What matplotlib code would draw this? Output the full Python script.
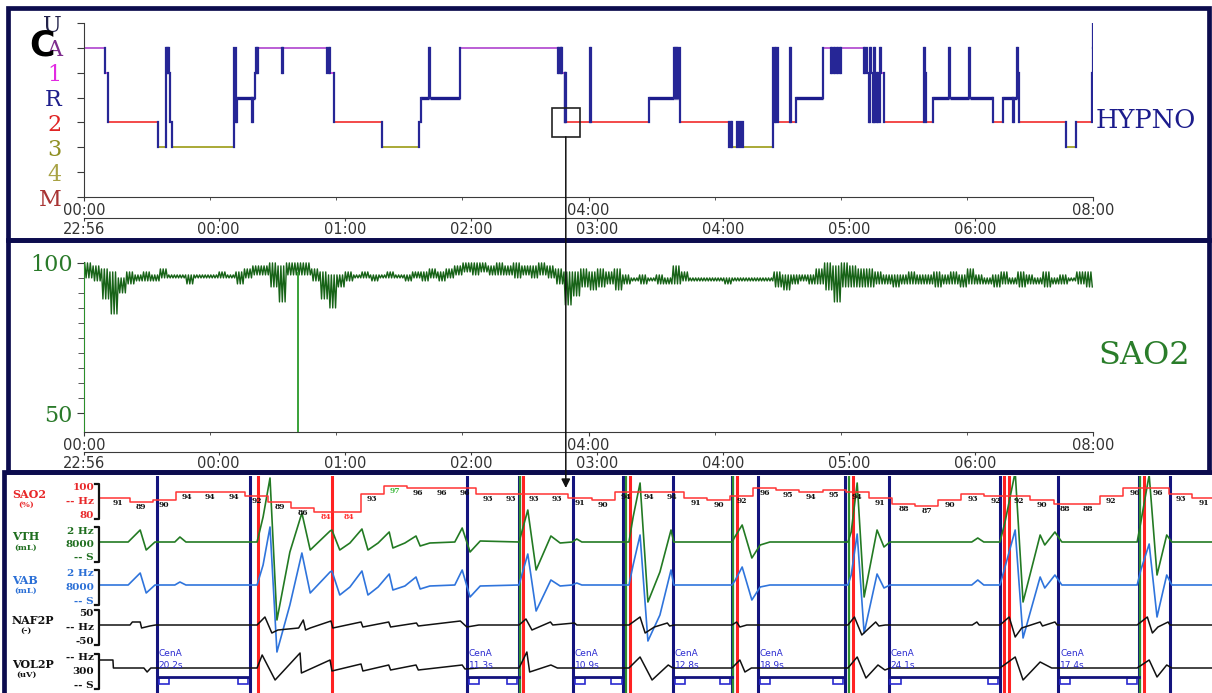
import numpy as np
import matplotlib
matplotlib.use("Agg")
import matplotlib.pyplot as plt
from matplotlib.patches import Rectangle, ConnectionPatch
from matplotlib.lines import Line2D
from matplotlib.transforms import blended_transform_factory

# ---------------- hypnogram (minutes after 22:56, stage entered) ----------------
hyp_min = [0, 10.0, 11.4, 35.2, 39.0, 39.5, 40.0, 40.5, 41.0, 41.9,
           71.4, 72.1, 72.9, 80.0, 80.5, 81.4, 81.9, 82.4, 82.9, 94.3,
           94.8, 115.7, 116.4, 117.1, 119.0, 141.9, 159.5, 160.5, 164.3, 164.8,
           179.0, 225.7, 226.2, 226.7, 227.1, 227.6, 228.6, 229.0, 229.5, 240.5,
           241.0, 268.6, 280.5, 281.0, 281.4, 281.9, 282.4, 283.3, 306.7, 307.6,
           308.1, 310.5, 311.4, 312.4, 313.3, 327.6, 328.6, 329.0, 330.0, 335.7,
           336.2, 338.6, 351.4, 355.2, 355.7, 356.7, 357.1, 358.1, 358.6, 359.5,
           360.0, 371.0, 371.4, 372.4, 373.3, 373.8, 374.3, 375.2, 375.7, 376.2,
           377.1, 377.6, 378.6, 379.0, 380.5, 399.5, 400.0, 400.5, 403.8, 411.4,
           411.9, 420.9, 421.4, 432.4, 437.1, 441.9, 442.4, 443.8, 444.3, 444.8,
           467.1, 471.9, 479.5, 479.8, 480.0]
hyp_stage = ["A", "1", "2", "3", "A", "1", "A", "1", "2", "3",
             "A", "2", "R", "2", "R", "1", "A", "1", "A", "1",
             "A", "1", "A", "1", "2", "3", "2", "R", "A", "R",
             "A", "1", "A", "1", "A", "1", "2", "1", "2", "A",
             "2", "R", "A", "R", "A", "R", "A", "2", "3", "2",
             "3", "2", "3", "2", "3", "A", "2", "A", "2", "A",
             "2", "R", "A", "1", "A", "1", "A", "1", "A", "1",
             "A", "1", "A", "1", "2", "A", "1", "2", "A", "2",
             "1", "2", "A", "1", "2", "A", "1", "2", "R", "A",
             "R", "A", "R", "2", "R", "2", "R", "A", "1", "2",
             "3", "2", "1", "A", "U"]
hyp_end_min = 480.2

stage_names = ["M", "4", "3", "2", "R", "1", "A", "U"]
stage_label_colors = ["#a83434", "#a8a244", "#8f8f22", "#e02424", "#1e1e8c",
                      "#e22ae2", "#7e2c8e", "#22224a"]
stage_line_colors = {"A": "#b552d2", "1": "#e040e0", "R": "#1c1c8c",
                     "2": "#f23c3c", "3": "#a3a326", "U": "#1c1c8c"}

elapsed_ticks = [0, 4, 8]
elapsed_labels = ["00:00", "04:00", "08:00"]
clock_ticks = [0, 1.067, 2.067, 3.067, 4.067, 5.067, 6.067, 7.067]
clock_labels = ["22:56", "00:00", "01:00", "02:00", "03:00", "04:00", "05:00", "06:00"]

# ---------------- SaO2 overview: 4-minute bins, max / min ----------------
sao2_bin_min = 4
sao2_hi = [100, 99, 98, 97, 95, 97, 96, 97, 96, 98,
           96, 96, 96, 96, 96, 96, 97, 96, 97, 98,
           99, 99, 100, 99, 100, 100, 100, 98, 97, 96,
           96, 97, 96, 97, 96, 96, 97, 96, 96, 97,
           97, 98, 97, 98, 99, 100, 100, 100, 99, 100,
           99, 100, 99, 99, 100, 99, 98, 97, 97, 98,
           97, 98, 97, 98, 96, 95, 96, 95, 96, 95,
           99, 97, 95, 95, 95, 95, 95, 95, 95, 95,
           95, 95, 97, 96, 96, 96, 96, 98, 100, 99,
           100, 99, 98, 98, 97, 96, 96, 96, 97, 96,
           96, 97, 96, 97, 96, 98, 96, 95, 96, 97,
           95, 97, 96, 95, 97, 95, 96, 95, 97, 97]
sao2_lo = [95, 94, 88, 83, 90, 93, 94, 94, 94, 95,
           95, 95, 93, 95, 95, 95, 95, 95, 93, 95,
           96, 96, 92, 87, 96, 96, 96, 94, 88, 85,
           92, 94, 95, 95, 94, 95, 95, 95, 94, 95,
           94, 95, 94, 95, 96, 97, 96, 97, 96, 96,
           96, 95, 96, 95, 96, 95, 93, 86, 89, 92,
           91, 92, 93, 91, 93, 94, 93, 94, 93, 93,
           93, 94, 94, 94, 94, 94, 93, 94, 94, 94,
           94, 94, 92, 91, 93, 94, 93, 93, 91, 87,
           92, 92, 92, 92, 93, 93, 92, 93, 93, 93,
           93, 92, 93, 93, 92, 93, 93, 93, 92, 93,
           93, 92, 93, 93, 92, 93, 93, 94, 93, 92]
artifact_h = [0.0, 1.70]
artifact_top = [100, 97]

zoom_h = 3.82   # epoch shown in the lower panel

# ---------------- lower panel: 240 s epoch ----------------
epoch_len = 240.7
resp_t = [0.0, 6.1, 8.7, 10.0, 11.9, 16.2, 17.3, 18.6, 34.0, 35.3,
          36.8, 38.3, 41.1, 43.7, 45.5, 49.8, 50.2, 51.9, 54.1, 56.7,
          58.0, 60.2, 62.6, 63.4, 66.0, 68.4, 69.3, 71.4, 76.8, 78.4,
          80.1, 82.3, 90.7, 91.3, 92.6, 94.4, 97.6, 99.6, 102.2, 103.2,
          104.3, 114.5, 115.4, 116.9, 118.6, 121.2, 123.6, 124.2, 136.8, 137.4,
          139.0, 141.1, 142.9, 145.0, 161.9, 162.6, 163.9, 165.4, 168.2, 169.7,
          171.0, 188.7, 190.0, 191.3, 194.8, 195.9, 198.1, 199.8, 203.5, 204.5,
          206.7, 208.2, 224.5, 225.3, 227.1, 228.8, 230.9, 232.0, 240.7]
vth = [0, 0, 12, -8, 0, 0, 5, 0, 0, 25,
       64, -78, -10, 29, -8, 11, 12, -8, -1, 13,
       -8, -1, 10, -6, -1, 6, -4, -1, 0, 14,
       -10, 1, 0, 10, 32, -28, 6, -1, 0, 3,
       0, 0, 25, 59, -60, -30, 12, 0, 0, 5,
       17, -16, -3, 0, 0, 10, 59, -55, 12, -5,
       0, 0, 4, 0, 0, 20, 70, -60, 7, -3,
       10, 0, 0, 20, 67, -33, 7, 0, 0]
vab = [0, 0, 12, -8, 0, 0, 3, 0, 0, 20,
       58, -67, -20, 32, -8, 13, 14, -10, -2, 14,
       -10, -2, 11, -5, -1, 8, -4, -1, 0, 15,
       -12, -1, 0, 10, 31, -26, 5, -1, 0, 2,
       0, 0, 20, 50, -56, -30, 15, 0, 0, 4,
       18, -15, -2, 0, 0, 10, 51, -48, 11, -3,
       0, 0, 5, 0, 0, 18, 55, -53, 8, -3,
       10, 0, 0, 15, 41, -32, 10, 0, 0]
naf_t = [0, 6.5, 7.0, 8.7, 9.0, 10.8, 12, 34.0, 35.7, 37.2,
         38.5, 43.0, 44.0, 44.5, 45.5, 50.0, 50.4, 56.5, 56.9, 62.5,
         62.9, 68.5, 68.9, 78.0, 79.4, 82, 90.7, 92.2, 93.5, 96,
         97.5, 98, 102.7, 103.2, 114.5, 116.9, 118.0, 120, 122.8, 123.3,
         124.3, 136.8, 137.8, 138.5, 140, 161.9, 163.3, 164.9, 166.5, 167.9,
         168.6, 170, 188.8, 189.8, 190.3, 194.8, 196.8, 198.1, 199.5, 203.5,
         204, 206.7, 207.2, 224.5, 226.7, 227.8, 229, 231.2, 231.6, 240.7]
naf = [0, 0, 3, 3, -3, -1, 0, 0, 8, -8,
       -5, -3, 5, -5, -3, 4, -3, 3, -2, 3,
       -2, 2, -1, 4, -2, 0, 0, 6, -5, 0,
       3, 0, 2, 0, 0, 8, -8, -2, 2, -1,
       0, 0, 3, -2, 0, 0, 8, -10, -3, 3,
       -1, 0, 0, 3, 0, 0, 8, -12, -3, 3,
       -1, 3, 0, 0, 8, -8, -2, 3, 0, 0]
vol_t = [0, 2.8, 2.9, 9.5, 10.2, 11.0, 34.0, 35.1, 37.9, 43.3,
         43.6, 49.8, 50.2, 56.5, 56.9, 62.5, 62.9, 68.4, 68.9, 78.4,
         79.0, 82.0, 90.7, 92.4, 93.0, 97.6, 99.0, 114.5, 116.9, 119.5,
         123.0, 124.0, 136.8, 138.5, 139.6, 141.0, 161.9, 163.9, 165.8, 168.4,
         169.9, 171.0, 194.8, 198.1, 199.8, 203.5, 206.0, 224.5, 227.1, 228.8,
         230.9, 232.0, 240.7]
vol = [8, 8, 0, 0, -4, 0, 0, 13, -12, 15,
       -5, 8, -3, 4, -3, 3, -2, 3, -2, 3,
       -1, 0, 0, 16, -4, 3, 0, 0, 11, -12,
       3, 0, 0, 8, -4, 0, 0, 11, -10, 3,
       -2, 0, 0, 11, -12, 6, 0, 0, 8, -9,
       3, 0, 0]
sao2_epoch = [91, 89, 90, 94, 94, 94, 92, 89, 86, 84,
              84, 93, 97, 96, 96, 96, 93, 93, 93, 93,
              91, 90, 94, 94, 94, 91, 90, 92, 96, 95,
              94, 95, 94, 91, 88, 87, 90, 93, 92, 92,
              90, 88, 88, 92, 96, 96, 93, 91]
sao2_epoch_t0, sao2_epoch_dt = 3.9, 5.0

cena_start = [12.3, 79.4, 102.4, 124.0, 142.4, 170.7, 207.4]
cena_dur = [20.2, 11.3, 10.9, 12.8, 18.9, 24.1, 17.4]
arousal_marks = [34.3, 50.2, 91.6, 114.8, 137.8, 163.0, 195.7, 196.8, 225.9]
green_marks = [90.9, 113.9, 137.1, 162.2, 225.1]
extra_blue = [231.6]

channels = [("SAO2", "(%)", ["100", "-- Hz", "80"], "#e8282a"),
            ("VTH", "(mL)", ["2 Hz", "8000", "-- S"], "#1f6e1f"),
            ("VAB", "(mL)", ["2 Hz", "8000", "-- S"], "#2a6fd6"),
            ("NAF2P", "(-)", ["50", "-- Hz", "-50"], "#111111"),
            ("VOL2P", "(uV)", ["-- Hz", "300", "-- S"], "#111111")]

# ---------------- figure ----------------
W, H = 1212, 693
fig = plt.figure(figsize=(W / 100, H / 100), dpi=100)


def fx(x):
    return x / W


def fy(y):
    return 1 - y / H


navy = "#0c0c4e"
axis_col = "#3a3a3a"
serif = "DejaVu Serif"
sans = "DejaVu Sans"


def time_axes(ax, loc):
    ax.set_xlim(0, 8)
    ax.spines[["top", "right"]].set_visible(False)
    ax.spines[["left", "bottom"]].set_color(axis_col)
    ax.set_xticks(elapsed_ticks, labels=elapsed_labels)
    ax.set_xticks(range(9), minor=True)
    ax.tick_params(axis="x", which="both", colors=axis_col, labelsize=10.5, pad=1,
                   length=3)
    ax.tick_params(axis="x", which="minor", length=2)
    sec = ax.secondary_xaxis(loc)
    sec.set_xticks(clock_ticks, labels=clock_labels)
    sec.spines["bottom"].set_color(axis_col)
    sec.tick_params(axis="x", colors=axis_col, labelsize=10.5, pad=1, length=2)
    for t in list(ax.get_xticklabels()) + list(sec.get_xticklabels()):
        t.set_fontfamily(sans)
        t.set_color("#333333")


# panel 1: hypnogram
ax1 = fig.add_axes([fx(84), fy(197), fx(1093) - fx(84), (197 - 23) / H])
ax1.set_facecolor("none")
ax1.set_ylim(0, 7)
level = {s: i for i, s in enumerate(stage_names)}
t_h = np.array(hyp_min + [hyp_end_min]) / 60
for i, s in enumerate(hyp_stage):
    y = level[s]
    ax1.plot([t_h[i], t_h[i + 1]], [y, y], color=stage_line_colors[s],
             lw=2.4 if s in ("R", "U") else 1.3, solid_capstyle="butt", zorder=2)
    if i + 1 < len(hyp_stage):
        ax1.plot([t_h[i + 1]] * 2, [y, level[hyp_stage[i + 1]]], color="#262696",
                 lw=1.6, zorder=3)
ax1.set_yticks(range(len(stage_names)), labels=stage_names)
ax1.tick_params(axis="y", length=5, pad=11, colors=axis_col, labelsize=16)
for lab, c in zip(ax1.get_yticklabels(), stage_label_colors):
    lab.set_color(c)
    lab.set_fontfamily(serif)
time_axes(ax1, -0.121)
box_h = 0.222
box_v = 1.16
ax1.add_patch(Rectangle((zoom_h - box_h / 2, level["2"] - box_v / 2), box_h, box_v,
                        fill=False, ec="#222222", lw=1.2, zorder=4))

# panel 2: SaO2 overview
ax2 = fig.add_axes([fx(84), fy(432), fx(1093) - fx(84), (432 - 262) / H])
ax2.set_facecolor("none")
ax2.set_ylim(43.7, 100.3)
bin_h = sao2_bin_min / 60
xs, ys = [], []
for i, (hi, lo) in enumerate(zip(sao2_hi, sao2_lo)):
    pattern = [hi, lo] * 3
    for j, v in enumerate(pattern):
        xs.append((i + (j + 0.5) / len(pattern)) * bin_h)
        ys.append(v)
ax2.plot(xs, ys, color="#176317", lw=1.0, zorder=3)
ax2.vlines(artifact_h, 43.7, artifact_top, color="#2a9a2a", lw=1.3, zorder=3)
ax2.set_yticks([50, 100], labels=["50", "100"])
ax2.set_yticks(range(55, 100, 5), minor=True)
ax2.tick_params(axis="y", which="both", length=5, pad=3, colors=axis_col,
                labelsize=16)
ax2.tick_params(axis="y", which="minor", length=4)
for lab in ax2.get_yticklabels():
    lab.set_color("#2a7a2a")
    lab.set_fontfamily(serif)
time_axes(ax2, -0.118)

# panel 3: polygraphic epoch
ax3 = fig.add_axes([fx(100), 0, 1 - fx(100), 217 / H])
ax3.set_xlim(0, epoch_len)
ax3.set_ylim(0, 217)
ax3.axis("off")
evt_col = "#14147e"
for s, d in zip(cena_start, cena_dur):
    ax3.axvline(s, color=evt_col, lw=2.2, zorder=1)
    ax3.axvline(s + d, color=evt_col, lw=2.2, zorder=1)
for t in extra_blue:
    ax3.axvline(t, color=evt_col, lw=2.2, zorder=1)
for t in green_marks:
    ax3.axvline(t, color="#2f8f2f", lw=1.6, zorder=1)
for t in arousal_marks:
    ax3.axvline(t, color="#ff2222", lw=2.2, zorder=1)

base_vth, base_vab, base_naf, base_vol = 151, 108, 68, 25
ax3.plot(resp_t, np.array(vth) + base_vth, color="#237a23", lw=1.2, zorder=3)
ax3.plot(resp_t, np.array(vab) + base_vab, color="#2f74dc", lw=1.2, zorder=3)
ax3.plot(naf_t, np.array(naf) + base_naf, color="#111111", lw=1.1, zorder=3)
ax3.plot(vol_t, np.array(vol) + base_vol, color="#111111", lw=1.1, zorder=3)

sa_t = sao2_epoch_t0 + sao2_epoch_dt * np.arange(len(sao2_epoch))
sa_y = 13 + 2 * np.array(sao2_epoch)
ax3.step(np.r_[0, sa_t, epoch_len], np.r_[sa_y[0], sa_y, sa_y[-1]], where="mid",
         color="#ff3434", lw=1.1, zorder=3)
for t, v, y in zip(sa_t, sao2_epoch, sa_y):
    c = "#ff3030" if v <= 85 else ("#38b838" if v >= 97 else "#111111")
    ax3.text(t, y - 5, str(v), ha="center", va="center", fontsize=5.5,
             fontfamily=serif, fontweight="bold", color=c, zorder=4)

for s, d in zip(cena_start, cena_dur):
    e = s + d
    ax3.plot([s, e], [16, 16], color=evt_col, lw=2, zorder=2)
    ax3.add_patch(Rectangle((s + 0.4, 9), 2.2, 6, fill=False, ec="#2a2ad0", lw=1.2))
    ax3.add_patch(Rectangle((e - 2.6, 9), 2.2, 6, fill=False, ec="#2a2ad0", lw=1.2))
    ax3.text(s + 0.4, 40, "CenA", fontsize=6.5, color="#2a2ad0", fontfamily=sans,
             va="center", ha="left", zorder=4)
    ax3.text(s + 0.4, 27, f"{d:.1f}s", fontsize=6.5, color="#2a2ad0",
             fontfamily=sans, va="center", ha="left", zorder=4)

# channel names, scale labels and brackets
for k, (name, unit, scale, col) in enumerate(channels):
    top = [488, 531, 574, 614, 658][k]
    fig.text(fx(12), fy(top + 6), name, ha="left", va="center", fontsize=8,
             fontfamily=serif, fontweight="bold", color=col)
    fig.text(fx(26), fy(top + 17), unit, ha="center", va="center", fontsize=6,
             fontfamily=serif, fontweight="bold", color=col)
    for j, s in enumerate(scale):
        fig.text(fx(94), fy(top + 13.5 * j), s, ha="right", va="center",
                 fontsize=7.5, fontfamily=serif, fontweight="bold", color=col)
    fig.add_artist(Line2D([fx(95), fx(98.5), fx(98.5), fx(95)],
                          [fy(top - 4), fy(top - 4), fy(top + 31), fy(top + 31)],
                          color="#111111", lw=1.6, transform=fig.transFigure))

# text labels
fig.text(fx(42), fy(45), "C", ha="center", va="center", fontsize=25,
         fontweight="bold", fontfamily=sans, color="black")
fig.text(fx(1096), fy(121), "HYPNO", ha="left", va="center", fontsize=18.5,
         fontfamily=serif, color="#1c1c8c")
fig.text(fx(1098), fy(355), "SAO2", ha="left", va="center", fontsize=23,
         fontfamily=serif, color="#2a7d2a")

# arrow from the hypnogram box down to the epoch
blend = blended_transform_factory(ax1.transData, fig.transFigure)
con = ConnectionPatch(xyA=(zoom_h, level["2"] - box_v / 2), coordsA=ax1.transData,
                      xyB=(zoom_h, fy(488)), coordsB=blend, arrowstyle="-|>",
                      mutation_scale=13, color="#111111", lw=1.1, zorder=6)
fig.add_artist(con)

# panel frames
for (x0, y0, x1, y1) in [(8, 8, 1209, 240), (8, 240, 1209, 472), (4, 472, 1230, 720)]:
    fig.add_artist(Rectangle((fx(x0), fy(y1)), fx(x1) - fx(x0), fy(y0) - fy(y1),
                             transform=fig.transFigure, fill=False, ec=navy,
                             lw=3.4, zorder=5))

fig.savefig("out.png", dpi=100)
